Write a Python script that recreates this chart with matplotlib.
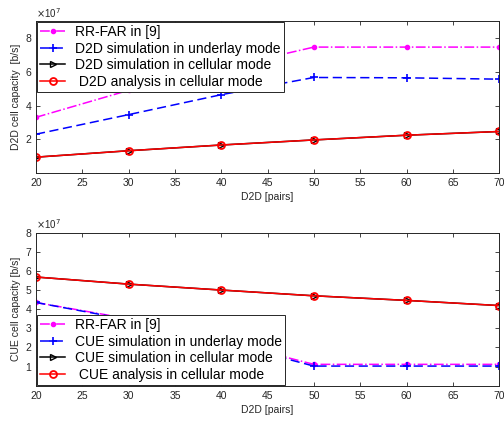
import matplotlib

matplotlib.use("Agg")
import matplotlib.pyplot as plt

plt.rcParams["font.family"] = ["Liberation Sans", "DejaVu Sans"]

# --- data (units of 1e7 b/s) ---
pairs = [20, 30, 40, 50, 60, 70]

d2d_rrfar = [3.3, 4.9, 6.2, 7.46, 7.46, 7.46]
d2d_underlay = [2.3, 3.46, 4.64, 5.66, 5.64, 5.56]
d2d_cell_sim = [0.94, 1.32, 1.66, 1.96, 2.24, 2.46]
d2d_cell_ana = [0.94, 1.32, 1.66, 1.96, 2.24, 2.46]

cue_rrfar = [4.35, 3.5, 2.35, 1.12, 1.12, 1.12]
cue_underlay = [4.35, 3.45, 2.3, 1.03, 1.03, 1.03]
cue_cell_sim = [5.68, 5.31, 5.0, 4.70, 4.46, 4.19]
cue_cell_ana = [5.68, 5.31, 5.0, 4.70, 4.46, 4.19]

top_labels = [
    "RR-FAR in [9]",
    "D2D simulation in underlay mode",
    "D2D simulation in cellular mode",
    " D2D analysis in cellular mode",
]
bottom_labels = [
    "RR-FAR in [9]",
    "CUE simulation in underlay mode",
    "CUE simulation in cellular mode",
    " CUE analysis in cellular mode",
]


def draw_panel(ax, rrfar, underlay, sim, ana, labels, ylim, yticks, ylabel, loc):
    ax.plot(pairs, rrfar, "-.", color="#ff00ff", marker="o", ms=3,
            mfc="#ff00ff", mec="#ff00ff", lw=1.1, label=labels[0])
    ax.plot(pairs, underlay, "--", color="#0000ff", marker="+", ms=6,
            mew=1.2, lw=1.1, dashes=(6, 3), label=labels[1])
    ax.plot(pairs, sim, "-", color="black", marker=">", ms=4.5, mfc="none",
            mew=1.0, lw=1.1, label=labels[2])
    ax.plot(pairs, ana, "-", color="#ff0000", marker="o", ms=5, mfc="none",
            mew=1.3, lw=1.1, label=labels[3])

    ax.set_xlim(20, 70)
    ax.set_ylim(*ylim)
    ax.set_xticks(range(20, 71, 5))
    ax.set_yticks(yticks)
    ax.tick_params(direction="in", top=True, right=True, labelsize=7.5,
                   length=3, width=0.6, colors="#262626")
    for sp in ax.spines.values():
        sp.set_linewidth(0.7)
        sp.set_color("#262626")
    ax.set_xlabel("D2D [pairs]", fontsize=7.5, labelpad=3, color="#262626")
    ax.set_ylabel(ylabel, fontsize=7.5, labelpad=3, color="#262626")
    ax.text(0.0, 1.01, r"$\times$10$^7$", transform=ax.transAxes,
            fontsize=7, color="#262626", ha="left", va="bottom")

    leg = ax.legend(loc=loc, fontsize=10, handlelength=1.8, labelspacing=0.18,
                    borderpad=0.25, handletextpad=0.7, borderaxespad=0.05,
                    fancybox=False, framealpha=1, edgecolor="#262626")
    leg.get_frame().set_linewidth(0.7)


fig = plt.figure(figsize=(5.04, 4.22), dpi=100)
ax1 = fig.add_axes([0.0714, 0.590, 0.919, 0.360])
ax2 = fig.add_axes([0.0714, 0.0858, 0.919, 0.363])

draw_panel(ax1, d2d_rrfar, d2d_underlay, d2d_cell_sim, d2d_cell_ana,
           top_labels, (0, 9), [2, 4, 6, 8], "D2D cell capacity  [b/s]",
           "upper left")
draw_panel(ax2, cue_rrfar, cue_underlay, cue_cell_sim, cue_cell_ana,
           bottom_labels, (0, 8), [1, 2, 3, 4, 5, 6, 7, 8],
           "CUE cell capacity [b/s]", "lower left")

fig.savefig("out.png", dpi=100, facecolor="white")
